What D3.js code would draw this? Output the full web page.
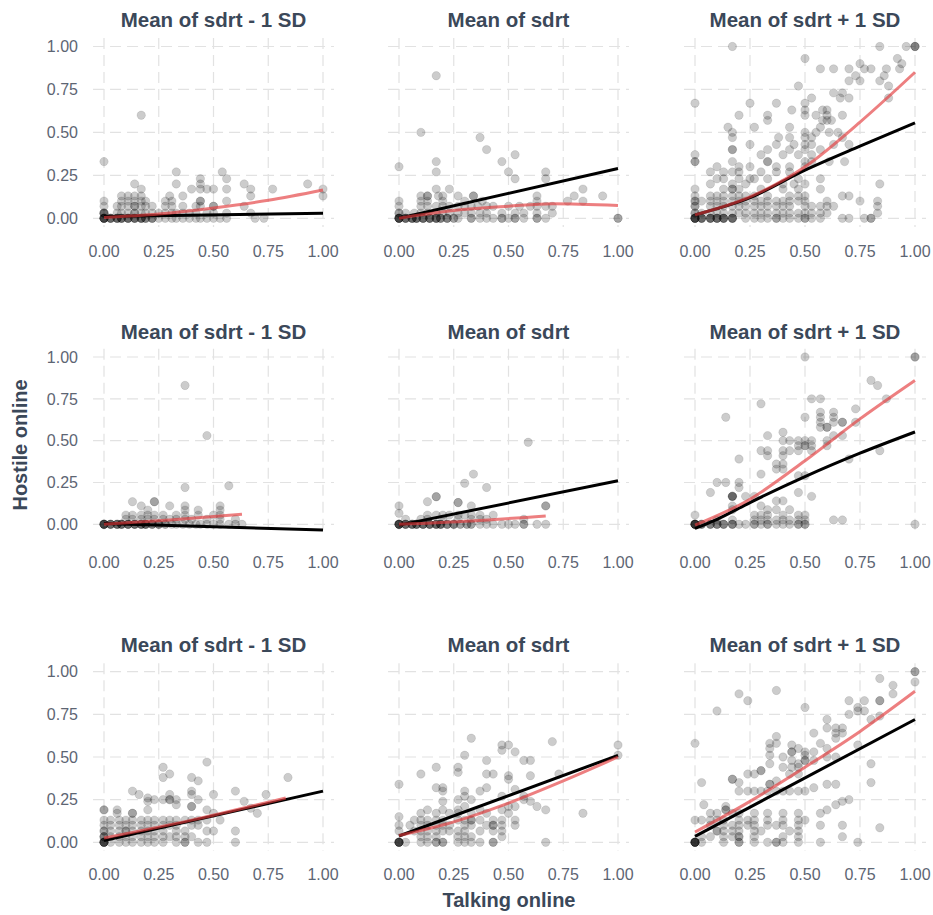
<html>
<head>
<meta charset="UTF-8">
<title>Hostile vs talking online</title>
<script src="https://cdn.jsdelivr.net/npm/d3@7"></script>
<style>
  body { margin: 0; background: #fff; }
  svg text { font-family: "Liberation Sans", Arial, sans-serif; }
</style>
</head>
<body>
<svg id="chart" width="933" height="915"></svg>
<script>
// ticks and titles
var ticks = [0, 0.25, 0.5, 0.75, 1];
var tickLabels = ["0.00", "0.25", "0.50", "0.75", "1.00"];
var colTitles = ["Mean of sdrt - 1 SD", "Mean of sdrt", "Mean of sdrt + 1 SD"];
var xTitle = "Talking online";
var yTitle = "Hostile online";

// points, written as [y, [x, x, ...]] rows
var pts11 = [
  [0, [0,0,0,0,0,0,0.03,0.03,0.03,0.03,0.06,0.06,0.06,0.06,0.08,0.08,0.08,0.08,0.11,0.11,0.11,0.11,0.14,0.14,0.14,0.14,0.17,0.17,0.17,0.17,0.19,0.19,0.19,0.22,0.22,0.22,0.25,0.28,0.31,0.33,0.36,0.39,0.42,0.44,0.47,0.5,0.53,0.56,0.69,0.73]],
  [0.03, [0,0,0,0,0.06,0.08,0.11,0.14,0.14,0.17,0.19,0.22,0.25,0.28,0.31,0.33,0.36,0.39,0.42,0.47,0.5,0.56,0.67]],
  [0.07, [0,0.06,0.08,0.11,0.14,0.14,0.17,0.19,0.22,0.28,0.31,0.36,0.42,0.44,0.5,0.5,0.64]],
  [0.1, [0,0.08,0.11,0.14,0.17,0.19,0.28,0.31,0.44,0.44,0.56]],
  [0.13, [0.08,0.11,0.14,0.17,0.3,0.36,0.67,1]],
  [0.17, [0.17,0.4,0.44,0.47,0.5,0.56,0.67,0.77,1]],
  [0.2, [0.14,0.33,0.44,0.64,0.93]],
  [0.23, [0.44,0.56]],
  [0.27, [0.33,0.54]],
  [0.33, [0]],
  [0.6, [0.17]]
];
var pts12 = [
  [0, [0,0,0,0,0,0,0.03,0.03,0.03,0.03,0.06,0.06,0.06,0.06,0.08,0.08,0.08,0.08,0.11,0.11,0.11,0.11,0.14,0.14,0.14,0.14,0.17,0.17,0.17,0.17,0.19,0.19,0.19,0.22,0.22,0.22,0.25,0.25,0.27,0.33,0.33,0.37,0.4,0.43,0.47,0.47,0.5,0.53,0.53,0.57,0.63,0.63,0.67,1,1]],
  [0.03, [0,0,0.03,0.07,0.1,0.13,0.17,0.2,0.23,0.27,0.3,0.33,0.37,0.4,0.47,0.53,0.57,0.63,0.7]],
  [0.07, [0,0.1,0.13,0.17,0.2,0.23,0.27,0.3,0.33,0.36,0.4,0.43,0.5,0.55,0.6,0.63,0.67,0.7]],
  [0.1, [0,0.1,0.13,0.2,0.3,0.38,0.63,0.77,0.84]],
  [0.13, [0.1,0.13,0.13,0.18,0.2,0.27,0.34,0.34,0.63,0.8,0.93]],
  [0.17, [0.17,0.23,0.84]],
  [0.23, [0.53,0.67]],
  [0.27, [0.17,0.5,0.67]],
  [0.3, [0]],
  [0.33, [0.17,0.47]],
  [0.37, [0.53]],
  [0.4, [0.4]],
  [0.47, [0.37]],
  [0.5, [0.1]],
  [0.83, [0.17]]
];
var pts13 = [
  [0, [0,0,0,0,0,0,0.03,0.03,0.03,0.03,0.07,0.07,0.07,0.07,0.1,0.1,0.1,0.1,0.13,0.13,0.13,0.13,0.17,0.17,0.17,0.17,0.23,0.27,0.3,0.33,0.37,0.37,0.4,0.43,0.47,0.5,0.5,0.53,0.57,0.67,0.7,0.77,0.8,0.8]],
  [0.03, [0,0,0.03,0.07,0.1,0.13,0.17,0.2,0.23,0.27,0.3,0.33,0.37,0.4,0.43,0.47,0.5,0.53,0.57,0.6,0.83]],
  [0.07, [0,0,0.07,0.1,0.13,0.17,0.2,0.23,0.27,0.3,0.33,0.37,0.4,0.43,0.5,0.53,0.57,0.6,0.63,0.83]],
  [0.1, [0,0,0.03,0.07,0.1,0.13,0.17,0.2,0.23,0.27,0.3,0.33,0.37,0.4,0.43,0.47,0.5,0.6,0.75,0.83]],
  [0.13, [0,0.07,0.1,0.13,0.17,0.2,0.23,0.27,0.33,0.43,0.47,0.5,0.67,0.7]],
  [0.17, [0,0.13,0.17,0.17,0.2,0.3,0.4,0.47,0.57]],
  [0.2, [0.07,0.17,0.23,0.4,0.45,0.5,0.84]],
  [0.23, [0.1,0.13,0.2,0.25,0.27,0.33,0.47,0.57]],
  [0.27, [0.07,0.13,0.17,0.2,0.3,0.37,0.43]],
  [0.3, [0.1,0.2,0.25,0.37,0.43,0.5]],
  [0.33, [0,0,0.17,0.33,0.33,0.5,0.53,0.61,0.68]],
  [0.37, [0,0.3,0.4,0.47,0.53]],
  [0.4, [0.17,0.17,0.33,0.43,0.5,0.57]],
  [0.43, [0.25,0.37,0.45,0.5,0.53,0.63,0.7]],
  [0.47, [0.17,0.38,0.43,0.5,0.53,0.67]],
  [0.5, [0.17,0.5,0.55,0.61,0.65]],
  [0.53, [0.15,0.27,0.43,0.57]],
  [0.57, [0.33,0.58,0.6,0.62]],
  [0.6, [0.2,0.33,0.5,0.55,0.6,0.67]],
  [0.63, [0.44,0.5,0.58,0.6]],
  [0.67, [0,0.25,0.37,0.5]],
  [0.7, [0.53,0.66,0.7,0.88]],
  [0.73, [0.63,0.67]],
  [0.77, [0.47,0.88]],
  [0.8, [0.7,0.75,0.84]],
  [0.83, [0.73,0.86]],
  [0.87, [0.57,0.63,0.7,0.77,0.8,0.87,0.93]],
  [0.9, [0.75,0.94]],
  [0.93, [0.5,0.92]],
  [1, [0.17,0.84,0.96,1,1,1]]
];
var pts21 = [
  [0, [0,0,0,0,0,0,0.03,0.03,0.03,0.03,0.06,0.06,0.06,0.06,0.08,0.08,0.08,0.08,0.11,0.11,0.11,0.11,0.14,0.14,0.14,0.14,0.17,0.17,0.17,0.17,0.19,0.19,0.19,0.19,0.22,0.22,0.22,0.25,0.25,0.25,0.28,0.28,0.31,0.33,0.36,0.39,0.42,0.44,0.47,0.5,0.53,0.57,0.6,0.63]],
  [0.03, [0.1,0.13,0.17,0.2,0.23,0.27,0.3,0.33,0.37,0.4,0.47,0.53,0.6]],
  [0.055, [0.1,0.13,0.17,0.2,0.23,0.27,0.33,0.37,0.43,0.5,0.53]],
  [0.085, [0.2,0.37,0.43,0.53]],
  [0.11, [0.17,0.3,0.37,0.53]],
  [0.135, [0.13,0.23,0.23]],
  [0.22, [0.37]],
  [0.23, [0.57]],
  [0.53, [0.47]],
  [0.83, [0.37]]
];
var pts22 = [
  [0, [0,0,0,0,0,0,0.03,0.03,0.03,0.03,0.06,0.06,0.06,0.06,0.08,0.08,0.08,0.08,0.11,0.11,0.11,0.11,0.14,0.14,0.14,0.14,0.17,0.17,0.17,0.17,0.19,0.19,0.19,0.19,0.22,0.22,0.22,0.25,0.25,0.25,0.28,0.28,0.31,0.31,0.33,0.33,0.37,0.4,0.43,0.47,0.5,0.53,0.57,0.57,0.63,0.67]],
  [0.03, [0.03,0.1,0.13,0.2,0.27,0.33,0.37,0.4,0.57]],
  [0.055, [0.13,0.17,0.2,0.23,0.27,0.3,0.33,0.37,0.43]],
  [0.066, [0]],
  [0.11, [0,0.33,0.67,0.67]],
  [0.13, [0.27,0.27]],
  [0.135, [0.13]],
  [0.165, [0.17,0.17]],
  [0.22, [0.4]],
  [0.245, [0.3]],
  [0.3, [0.34]],
  [0.49, [0.59]]
];
var pts23 = [
  [0, [0,0,0,0,0,0,0,0.03,0.03,0.03,0.07,0.07,0.07,0.1,0.1,0.1,0.13,0.13,0.13,0.17,0.17,0.17,0.2,0.23,0.27,0.27,0.3,0.33,0.33,0.37,0.4,0.43,0.47,0.47,0.5,0.5,1]],
  [0.026, [0.1,0.17,0.27,0.3,0.33,0.37,0.4,0.43,0.47,0.5,0.63,0.67]],
  [0.055, [0,0.27,0.3,0.33,0.4,0.47,0.5]],
  [0.087, [0.17,0.33,0.37,0.43]],
  [0.11, [0.17,0.3]],
  [0.14, [0.37,0.4]],
  [0.167, [0.17,0.17,0.17,0.17,0.23,0.27,0.53]],
  [0.19, [0.07,0.47]],
  [0.22, [0.2]],
  [0.25, [0.1,0.14,0.2]],
  [0.29, [0.47,0.5]],
  [0.3, [0.3]],
  [0.33, [0.37,0.4]],
  [0.36, [0.37,0.4]],
  [0.39, [0.2,0.7]],
  [0.41, [0.33,0.4]],
  [0.44, [0.3,0.33,0.4,0.43,0.47,0.53,0.84]],
  [0.47, [0.47,0.5,0.5,0.53,0.6]],
  [0.5, [0.4,0.43,0.47,0.5,0.53,0.6]],
  [0.53, [0.33,0.63,0.67]],
  [0.55, [0.4]],
  [0.58, [0.57,0.6,0.6]],
  [0.61, [0.57,0.63,0.67,0.67,0.73]],
  [0.64, [0.14,0.5,0.57,0.63]],
  [0.67, [0.57,0.63]],
  [0.69, [0.73]],
  [0.72, [0.3]],
  [0.75, [0.53,0.57,0.87]],
  [0.83, [0.83]],
  [0.86, [0.8]],
  [1, [0.5,1,1]]
];
var pts31 = [
  [0, [0,0,0,0,0,0,0.03,0.07,0.1,0.13,0.17,0.2,0.23,0.27,0.33,0.37,0.37,0.43,0.47,0.6]],
  [0.033, [0,0,0,0.03,0.07,0.1,0.13,0.17,0.2,0.23,0.27,0.3,0.33,0.37,0.4]],
  [0.066, [0,0,0.03,0.07,0.1,0.1,0.13,0.17,0.2,0.23,0.27,0.33,0.37,0.47,0.5,0.6]],
  [0.1, [0,0.03,0.07,0.1,0.13,0.17,0.2,0.23,0.27,0.3,0.33,0.4,0.43]],
  [0.13, [0,0.03,0.07,0.1,0.13,0.17,0.2,0.23,0.27,0.3,0.33,0.37,0.4,0.43,0.47,0.53]],
  [0.17, [0.06,0.13,0.13,0.5,0.7]],
  [0.19, [0,0,0.06,0.2,0.47]],
  [0.2, [0.67]],
  [0.21, [0.4,0.4]],
  [0.22, [0.33]],
  [0.24, [0.2,0.64]],
  [0.25, [0.23,0.27,0.3,0.3,0.33,0.43]],
  [0.26, [0.2]],
  [0.28, [0.16,0.3,0.4,0.5,0.74]],
  [0.3, [0.13,0.4,0.6]],
  [0.36, [0.43]],
  [0.38, [0.27,0.4,0.84]],
  [0.4, [0.3]],
  [0.44, [0.27]],
  [0.47, [0.47]]
];
var pts32 = [
  [0, [0,0,0,0,0,0,0.03,0.1,0.13,0.17,0.17,0.2,0.2,0.27,0.3,0.33,0.37,0.43,0.43,0.67]],
  [0.033, [0.1,0.13,0.17,0.27,0.3,0.33,0.47]],
  [0.066, [0,0.07,0.1,0.13,0.17,0.2,0.23,0.27,0.3,0.37,0.43,0.47]],
  [0.1, [0,0.05,0.1,0.13,0.17,0.2,0.23,0.3,0.33,0.4,0.43,0.43,0.47,0.53]],
  [0.13, [0.07,0.1,0.13,0.17,0.2,0.27,0.3,0.33,0.33,0.37,0.43,0.47,0.53]],
  [0.15, [0]],
  [0.17, [0.1,0.17,0.23,0.27,0.33,0.4,0.5,0.84]],
  [0.19, [0.13,0.2,0.27,0.37,0.47,0.67]],
  [0.21, [0.3,0.5,0.53,0.63]],
  [0.24, [0.2,0.6]],
  [0.25, [0.27,0.33,0.57]],
  [0.27, [0.3,0.47,0.57]],
  [0.3, [0.2,0.3,0.37]],
  [0.31, [0.53]],
  [0.32, [0.17,0.2,0.4]],
  [0.34, [0]],
  [0.37, [0.5]],
  [0.39, [0.5,0.6]],
  [0.4, [0.1,0.4,0.43,0.73]],
  [0.41, [0.27]],
  [0.44, [0.17,0.27]],
  [0.48, [0.4,0.57,0.6]],
  [0.51, [0.3,1]],
  [0.53, [0.53]],
  [0.54, [0.47]],
  [0.57, [0.47,0.5,1]],
  [0.59, [0.7]],
  [0.61, [0.33]]
];
var pts33 = [
  [0, [0,0,0,0,0,0,0,0.03,0.13,0.2,0.2,0.27,0.33,0.37,0.37,0.4,0.47,0.57,0.74]],
  [0.033, [0.03,0.07,0.13,0.17,0.2,0.2,0.27,0.4,0.47,0.67]],
  [0.066, [0.1,0.1,0.13,0.17,0.2,0.27,0.3,0.43,0.47]],
  [0.085, [0.84]],
  [0.1, [0.07,0.13,0.17,0.2,0.24,0.27,0.33,0.37,0.4,0.47,0.57,0.67]],
  [0.13, [0,0.03,0.07,0.1,0.13,0.2,0.24,0.27,0.33,0.4,0.47,0.5]],
  [0.17, [0.07,0.1,0.17,0.2,0.27,0.33,0.4,0.47,0.57]],
  [0.19, [0.14,0.14,0.6]],
  [0.21, [0.14]],
  [0.22, [0.04,0.64]],
  [0.24, [0.67]],
  [0.25, [0.7]],
  [0.3, [0.2,0.24,0.27,0.3,0.33,0.37,0.4,0.43,0.47,0.5]],
  [0.32, [0.54]],
  [0.34, [0.34,0.34,0.6,0.64]],
  [0.35, [0.03,0.2,0.8]],
  [0.36, [0.37]],
  [0.37, [0.17,0.17]],
  [0.4, [0.24,0.27,0.43,0.47]],
  [0.42, [0.3,0.3]],
  [0.44, [0.4,0.44,0.47]],
  [0.46, [0.34,0.47,0.8]],
  [0.48, [0.44,0.5,0.5,0.54]],
  [0.5, [0.4,0.6,0.64]],
  [0.51, [0.34,0.5]],
  [0.53, [0.44,0.44,0.5,0.54]],
  [0.55, [0.34,0.47,0.6]],
  [0.57, [0.44,0.74]],
  [0.58, [0,0.34,0.37,0.57]],
  [0.61, [0.64]],
  [0.62, [0.37]],
  [0.64, [0.54,0.64,0.67]],
  [0.67, [0.6,0.64,0.67]],
  [0.72, [0.6,0.8]],
  [0.74, [0.84]],
  [0.75, [0.7]],
  [0.77, [0.1,0.74,0.77]],
  [0.79, [0.5,0.74]],
  [0.83, [0.24,0.7,0.77,0.84,0.84]],
  [0.87, [0.2,0.9]],
  [0.89, [0.37]],
  [0.92, [0.9]],
  [0.94, [1]],
  [0.96, [0.84]],
  [1, [1,1]]
];

// fitted lines: black = model, red = smooth
var blk11 = [[0,0.01],[1,0.03]];
var red11 = [[0,0.005],[0.25,0.025],[0.5,0.06],[0.75,0.105],[1,0.165]];
var blk12 = [[0,0],[1,0.29]];
var red12 = [[0,0],[0.25,0.045],[0.5,0.07],[0.7,0.085],[1,0.075]];
var blk13 = [[0,0.02],[0.25,0.12],[0.5,0.28],[0.75,0.42],[1,0.555]];
var red13 = [[0,0.02],[0.25,0.125],[0.5,0.3],[0.75,0.56],[1,0.85]];
var blk21 = [[0,0.005],[1,-0.034]];
var red21 = [[0,0],[0.3,0.026],[0.63,0.06]];
var blk22 = [[0,-0.005],[1,0.26]];
var red22 = [[0,0],[0.33,0.02],[0.67,0.05]];
var blk23 = [[0,-0.025],[0.1,0.03],[0.25,0.13],[0.5,0.285],[0.75,0.425],[1,0.552]];
var red23 = [[0,-0.005],[0.25,0.15],[0.5,0.38],[0.75,0.63],[1,0.86]];
var blk31 = [[0,0.01],[1,0.3]];
var red31 = [[0,0.025],[0.4,0.13],[0.83,0.26]];
var blk32 = [[0,0.037],[1,0.51]];
var red32 = [[0,0.04],[0.25,0.12],[0.5,0.23],[0.75,0.36],[1,0.5]];
var blk33 = [[0,0.035],[1,0.72]];
var red33 = [[0,0.06],[0.25,0.24],[0.5,0.44],[0.75,0.65],[1,0.885]];

var panels = [
  [pts11, blk11, red11], [pts12, blk12, red12], [pts13, blk13, red13],
  [pts21, blk21, red21], [pts22, blk22, red22], [pts23, blk23, red23],
  [pts31, blk31, red31], [pts32, blk32, red32], [pts33, blk33, red33]
];

// layout (pixel positions of 0 and 1 on each axis)
var colX = [[104, 323], [399, 618], [695, 915]];
var rowY = [[218.3, 46.5], [524.3, 357], [842.3, 671.7]];
var titleY = [27, 339, 652];
var xLabY = [257, 568, 880];

var svg = d3.select("#chart");
var titleColor = "#3b4859", tickColor = "#5d6573";

function flatten(rows) {
  var out = [];
  rows.forEach(function (r) { r[1].forEach(function (x) { out.push([x, r[0]]); }); });
  return out;
}

panels.forEach(function (p, i) {
  var row = Math.floor(i / 3), col = i % 3;
  var x = d3.scaleLinear().domain([0, 1]).range(colX[col]);
  var y = d3.scaleLinear().domain([0, 1]).range(rowY[row]);
  var g = svg.append("g");

  // dashed grid
  g.selectAll("line.gx").data(ticks).enter().append("line")
    .attr("x1", x).attr("x2", x)
    .attr("y1", y(1.05)).attr("y2", y(-0.05))
    .attr("stroke", "#e2e2e2").attr("stroke-width", 1.2).attr("stroke-dasharray", "11,6");
  g.selectAll("line.gy").data(ticks).enter().append("line")
    .attr("y1", y).attr("y2", y)
    .attr("x1", x(-0.05)).attr("x2", x(1.05))
    .attr("stroke", "#e2e2e2").attr("stroke-width", 1.2).attr("stroke-dasharray", "11,6");

  // points
  g.selectAll("circle").data(flatten(p[0])).enter().append("circle")
    .attr("cx", function (d) { return x(d[0]); })
    .attr("cy", function (d) { return y(d[1]); })
    .attr("r", 4.2)
    .attr("fill", "#000").attr("fill-opacity", 0.2)
    .attr("stroke", "#000").attr("stroke-opacity", 0.12).attr("stroke-width", 0.8);

  var line = d3.line()
    .x(function (d) { return x(d[0]); })
    .y(function (d) { return y(d[1]); })
    .curve(d3.curveMonotoneX);

  g.append("path").attr("d", line(p[1]))
    .attr("fill", "none").attr("stroke", "#000").attr("stroke-width", 3);
  g.append("path").attr("d", line(p[2]))
    .attr("fill", "none").attr("stroke", "#e43a3c").attr("stroke-opacity", 0.65)
    .attr("stroke-width", 3);

  // x tick labels
  g.selectAll("text.xt").data(ticks).enter().append("text")
    .attr("x", x).attr("y", xLabY[row])
    .attr("text-anchor", "middle").attr("font-size", 16).attr("fill", tickColor)
    .text(function (d, k) { return tickLabels[k]; });

  // y tick labels, first column only
  if (col === 0) {
    g.selectAll("text.yt").data(ticks).enter().append("text")
      .attr("x", 78).attr("y", y).attr("dy", "0.36em")
      .attr("text-anchor", "end").attr("font-size", 16).attr("fill", tickColor)
      .text(function (d, k) { return tickLabels[k]; });
  }

  // panel title
  g.append("text")
    .attr("x", (colX[col][0] + colX[col][1]) / 2).attr("y", titleY[row])
    .attr("text-anchor", "middle").attr("font-size", 20.5).attr("font-weight", "bold")
    .attr("fill", titleColor).text(colTitles[col]);
});

// axis titles
svg.append("text")
  .attr("x", 509).attr("y", 907)
  .attr("text-anchor", "middle").attr("font-size", 20).attr("font-weight", "bold")
  .attr("fill", titleColor).text(xTitle);
svg.append("text")
  .attr("transform", "translate(27,445) rotate(-90)")
  .attr("text-anchor", "middle").attr("font-size", 20).attr("font-weight", "bold")
  .attr("fill", titleColor).text(yTitle);
</script>
</body>
</html>
